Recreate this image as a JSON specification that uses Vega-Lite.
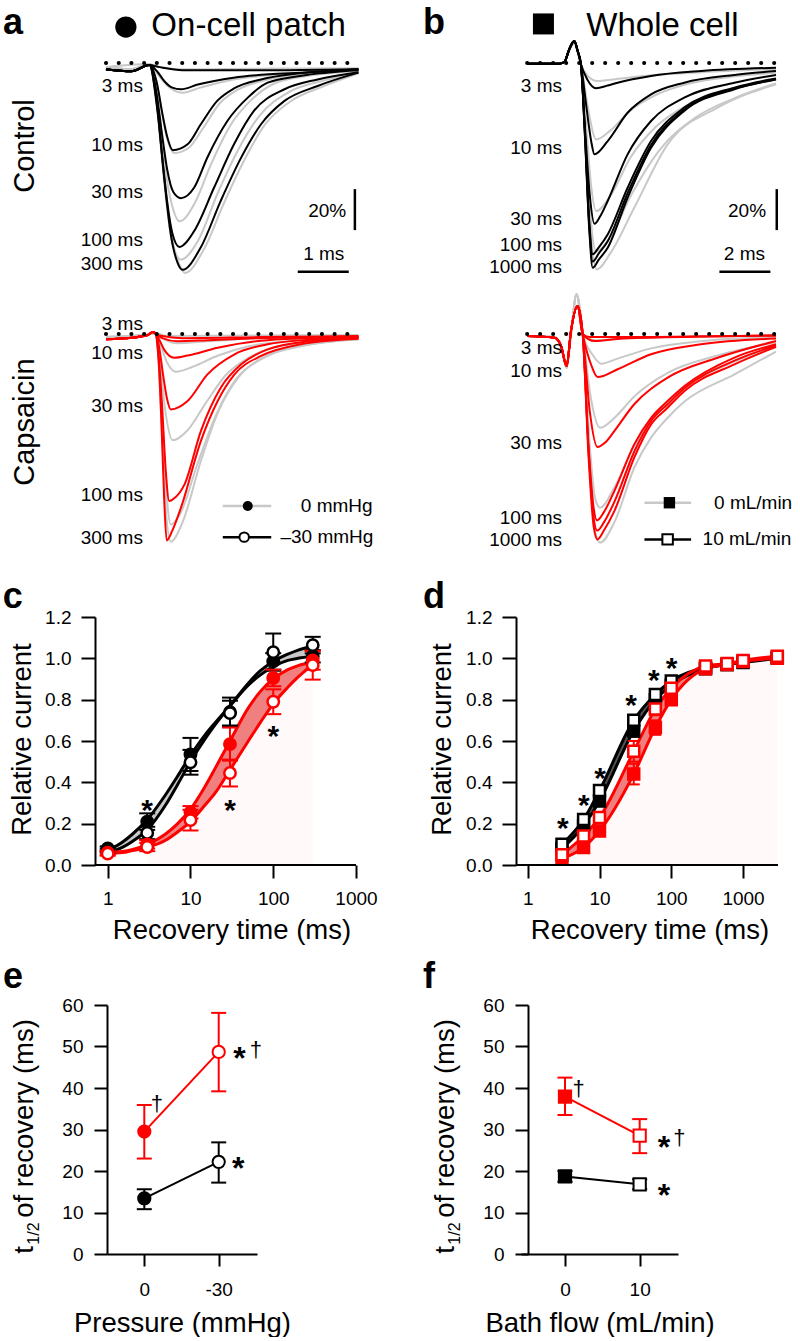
{
"$schema":"https://vega.github.io/schema/vega-lite/v6.json",
"padding":0,
"config":{"view":{"stroke":null},"font":"Liberation Sans","text":{"color":"#000"},
"axis":{"domainColor":"#000","tickColor":"#000","labelColor":"#000","titleColor":"#000","domainWidth":2,"tickWidth":2,"labelFontSize":19,"titleFontSize":27.5,"titleFontWeight":"normal","grid":false,"labelFlush":false,"labelOverlap":false,"labelBound":false}},
"columns":2,
"bounds":"flush",
"align":"each",
"spacing":{"row":11,"column":160},
"concat":[
{"width":254,"height":260,
"encoding":{"x":{"field":"t","type":"quantitative","scale":{"domain":[0.02,5.0],"nice":false,"zero":false},"axis":null},"y":{"field":"v","type":"quantitative","scale":{"domain":[-105,22],"nice":false,"zero":false},"axis":null}},
"layer":[
{"data":{"name":"aCtrl"},"transform":[{"filter":"substring(datum.s,0,1)==='g'"}],"mark":{"type":"line","stroke":"#c8c8c8","strokeWidth":2,"interpolate":"monotone"},"encoding":{"detail":{"field":"s","type":"nominal"}}},
{"data":{"name":"aCtrl"},"transform":[{"filter":"substring(datum.s,0,1)!=='g'"}],"mark":{"type":"line","stroke":"#000","strokeWidth":2,"interpolate":"monotone"},"encoding":{"detail":{"field":"s","type":"nominal"}}},
{"data":{"values":[{"t":0,"t2":4.87,"v":0}]},"mark":{"type":"rule","stroke":"#000","strokeWidth":4,"strokeCap":"round","strokeDash":[0.1,12.6]},"encoding":{"x2":{"field":"t2"}}},
{"data":{"values":[{"t":4.88,"t2":4.88,"v":-61.6,"v2":-81.6},{"t":3.76,"t2":4.76,"v":-102,"v2":-102}]},"mark":{"type":"rule","stroke":"#000","strokeWidth":2.5},"encoding":{"x2":{"field":"t2"},"y2":{"field":"v2"}}},
{"data":{"values":[{"t":0.725,"v":-11.2,"label":"3 ms"},{"t":0.725,"v":-40.0,"label":"10 ms"},{"t":0.725,"v":-62.9,"label":"30 ms"},{"t":0.725,"v":-86.6,"label":"100 ms"},{"t":0.725,"v":-98.3,"label":"300 ms"}]},"mark":{"type":"text","align":"right","baseline":"middle","fontSize":19},"encoding":{"text":{"field":"label"}}},
{"data":{"values":[{"t":4.71,"v":-72.3,"label":"20%"}]},"mark":{"type":"text","align":"right","baseline":"middle","fontSize":19},"encoding":{"text":{"field":"label"}}},
{"data":{"values":[{"t":4.27,"v":-93.3,"label":"1 ms"}]},"mark":{"type":"text","align":"center","baseline":"middle","fontSize":19},"encoding":{"text":{"field":"label"}}},
{"data":{"values":[{"t":0.39,"v":17.6}]},"mark":{"type":"point","shape":"circle","filled":true,"size":452,"color":"#000","opacity":1}},
{"data":{"values":[{"t":0.89,"v":13.2,"label":"On-cell patch"}]},"mark":{"type":"text","align":"left","baseline":"alphabetic","fontSize":33},"encoding":{"text":{"field":"label"}}},
{"data":{"values":[{"t":-2.02,"v":14.0,"label":"a"}]},"mark":{"type":"text","align":"left","baseline":"alphabetic","fontSize":36,"fontWeight":"bold"},"encoding":{"text":{"field":"label"}}},
{"data":{"values":[{"t":-1.41,"v":-40.5,"label":"Control"}]},"mark":{"type":"text","align":"center","baseline":"alphabetic","angle":270,"fontSize":29},"encoding":{"text":{"field":"label"}}},
{"data":{"values":[{"t":-2.039,"v":29.82}]},"mark":{"type":"point","shape":"square","size":4,"filled":true,"opacity":0}}
]},
{"width":260,"height":260,
"encoding":{"x":{"field":"t","type":"quantitative","scale":{"domain":[0,10.196],"nice":false,"zero":false},"axis":null},"y":{"field":"v","type":"quantitative","scale":{"domain":[-105,22],"nice":false,"zero":false},"axis":null}},
"layer":[
{"data":{"name":"bCtrl"},"transform":[{"filter":"substring(datum.s,0,1)==='g'"}],"mark":{"type":"line","stroke":"#c8c8c8","strokeWidth":2,"interpolate":"monotone"},"encoding":{"detail":{"field":"s","type":"nominal"}}},
{"data":{"name":"bCtrl"},"transform":[{"filter":"substring(datum.s,0,1)!=='g'"}],"mark":{"type":"line","stroke":"#000","strokeWidth":2,"interpolate":"monotone"},"encoding":{"detail":{"field":"s","type":"nominal"}}},
{"data":{"values":[{"t":0.24,"t2":10.0,"v":0}]},"mark":{"type":"rule","stroke":"#000","strokeWidth":4,"strokeCap":"round","strokeDash":[0.1,12.9]},"encoding":{"x2":{"field":"t2"}}},
{"data":{"values":[{"t":10.03,"t2":10.03,"v":-61.6,"v2":-81.6},{"t":7.78,"t2":9.78,"v":-102,"v2":-102}]},"mark":{"type":"rule","stroke":"#000","strokeWidth":2.5},"encoding":{"x2":{"field":"t2"},"y2":{"field":"v2"}}},
{"data":{"values":[{"t":1.61,"v":-11.2,"label":"3 ms"},{"t":1.61,"v":-41.4,"label":"10 ms"},{"t":1.61,"v":-76.3,"label":"30 ms"},{"t":1.61,"v":-89.0,"label":"100 ms"},{"t":1.61,"v":-99.4,"label":"1000 ms"}]},"mark":{"type":"text","align":"right","baseline":"middle","fontSize":19},"encoding":{"text":{"field":"label"}}},
{"data":{"values":[{"t":9.61,"v":-72.3,"label":"20%"}]},"mark":{"type":"text","align":"right","baseline":"middle","fontSize":19},"encoding":{"text":{"field":"label"}}},
{"data":{"values":[{"t":8.76,"v":-93.3,"label":"2 ms"}]},"mark":{"type":"text","align":"center","baseline":"middle","fontSize":19},"encoding":{"text":{"field":"label"}}},
{"data":{"values":[{"t":0.88,"v":19.1}]},"mark":{"type":"point","shape":"square","filled":true,"size":441,"color":"#000","opacity":1}},
{"data":{"values":[{"t":2.56,"v":13.2,"label":"Whole cell"}]},"mark":{"type":"text","align":"left","baseline":"alphabetic","fontSize":33},"encoding":{"text":{"field":"label"}}},
{"data":{"values":[{"t":-3.84,"v":14.0,"label":"b"}]},"mark":{"type":"text","align":"left","baseline":"alphabetic","fontSize":36,"fontWeight":"bold"},"encoding":{"text":{"field":"label"}}}
]},
{"width":254,"height":260,
"encoding":{"x":{"field":"t","type":"quantitative","scale":{"domain":[0.02,5.0],"nice":false,"zero":false},"axis":null},"y":{"field":"v","type":"quantitative","scale":{"domain":[-105,22],"nice":false,"zero":false},"axis":null}},
"layer":[
{"data":{"name":"aCaps"},"transform":[{"filter":"substring(datum.s,0,1)==='g'"}],"mark":{"type":"line","stroke":"#c8c8c8","strokeWidth":2,"interpolate":"monotone"},"encoding":{"detail":{"field":"s","type":"nominal"}}},
{"data":{"name":"aCaps"},"transform":[{"filter":"substring(datum.s,0,1)!=='g'"}],"mark":{"type":"line","stroke":"#ff0000","strokeWidth":2,"interpolate":"monotone"},"encoding":{"detail":{"field":"s","type":"nominal"}}},
{"data":{"values":[{"t":0,"t2":4.87,"v":0}]},"mark":{"type":"rule","stroke":"#000","strokeWidth":4,"strokeCap":"round","strokeDash":[0.1,12.6]},"encoding":{"x2":{"field":"t2"}}},
{"data":{"values":[{"t":0.725,"v":4.8,"label":"3 ms"},{"t":0.725,"v":-9.1,"label":"10 ms"},{"t":0.725,"v":-35.2,"label":"30 ms"},{"t":0.725,"v":-78.6,"label":"100 ms"},{"t":0.725,"v":-99.5,"label":"300 ms"}]},"mark":{"type":"text","align":"right","baseline":"middle","fontSize":19},"encoding":{"text":{"field":"label"}}},
{"data":{"values":[{"t":2.29,"t2":3.24,"v":-84}]},"mark":{"type":"rule","stroke":"#c8c8c8","strokeWidth":2.5},"encoding":{"x2":{"field":"t2"}}},
{"data":{"values":[{"t":2.29,"t2":3.24,"v":-99.2}]},"mark":{"type":"rule","stroke":"#000","strokeWidth":2.5},"encoding":{"x2":{"field":"t2"}}},
{"data":{"values":[{"t":2.78,"v":-84}]},"mark":{"type":"point","shape":"circle","filled":true,"size":100,"color":"#000","opacity":1}},
{"data":{"values":[{"t":2.71,"v":-99.2}]},"mark":{"type":"point","shape":"circle","filled":true,"size":90,"fill":"#fff","stroke":"#000","strokeWidth":2,"opacity":1}},
{"data":{"values":[{"t":3.82,"v":-84,"label":"0 mmHg"},{"t":3.42,"v":-99.2,"label":"–30 mmHg"}]},"mark":{"type":"text","align":"left","baseline":"middle","fontSize":19},"encoding":{"text":{"field":"label"}}},
{"data":{"values":[{"t":-1.41,"v":-43.0,"label":"Capsaicin"}]},"mark":{"type":"text","align":"center","baseline":"alphabetic","angle":270,"fontSize":29},"encoding":{"text":{"field":"label"}}}
]},
{"width":260,"height":260,
"encoding":{"x":{"field":"t","type":"quantitative","scale":{"domain":[0,10.196],"nice":false,"zero":false},"axis":null},"y":{"field":"v","type":"quantitative","scale":{"domain":[-105,22],"nice":false,"zero":false},"axis":null}},
"layer":[
{"data":{"name":"bCaps"},"transform":[{"filter":"substring(datum.s,0,1)==='g'"}],"mark":{"type":"line","stroke":"#c8c8c8","strokeWidth":2,"interpolate":"monotone"},"encoding":{"detail":{"field":"s","type":"nominal"}}},
{"data":{"name":"bCaps"},"transform":[{"filter":"substring(datum.s,0,1)!=='g'"}],"mark":{"type":"line","stroke":"#ff0000","strokeWidth":2,"interpolate":"monotone"},"encoding":{"detail":{"field":"s","type":"nominal"}}},
{"data":{"values":[{"t":0.24,"t2":10.0,"v":0}]},"mark":{"type":"rule","stroke":"#000","strokeWidth":4,"strokeCap":"round","strokeDash":[0.1,12.9]},"encoding":{"x2":{"field":"t2"}}},
{"data":{"values":[{"t":1.61,"v":-7.0,"label":"3 ms"},{"t":1.61,"v":-18.1,"label":"10 ms"},{"t":1.61,"v":-53.1,"label":"30 ms"},{"t":1.61,"v":-89.7,"label":"100 ms"},{"t":1.61,"v":-100.6,"label":"1000 ms"}]},"mark":{"type":"text","align":"right","baseline":"middle","fontSize":19},"encoding":{"text":{"field":"label"}}},
{"data":{"values":[{"t":4.84,"t2":6.67,"v":-82.4}]},"mark":{"type":"rule","stroke":"#c8c8c8","strokeWidth":2.5},"encoding":{"x2":{"field":"t2"}}},
{"data":{"values":[{"t":4.84,"t2":6.67,"v":-100.3}]},"mark":{"type":"rule","stroke":"#000","strokeWidth":2.5},"encoding":{"x2":{"field":"t2"}}},
{"data":{"values":[{"t":5.82,"v":-82.4}]},"mark":{"type":"point","shape":"square","filled":true,"size":130,"color":"#000","opacity":1}},
{"data":{"values":[{"t":5.75,"v":-100.3}]},"mark":{"type":"point","shape":"square","filled":true,"size":110,"fill":"#fff","stroke":"#000","strokeWidth":2,"opacity":1}},
{"data":{"values":[{"t":7.57,"v":-82.4,"label":"0 mL/min"},{"t":7.12,"v":-100.3,"label":"10 mL/min"}]},"mark":{"type":"text","align":"left","baseline":"middle","fontSize":19},"encoding":{"text":{"field":"label"}}}
]},
{"width":10,"height":46,"data":{"values":[{"a":1}]},"mark":{"type":"point","opacity":0}},
{"width":10,"height":46,"data":{"values":[{"a":1}]},"mark":{"type":"point","opacity":0}},
{"width":249,"height":248,
"encoding":{"x":{"field":"t","type":"quantitative","scale":{"type":"log","domain":[0.98,1000],"nice":false},"axis":{"values":[1,10,100,1000],"format":"d","domain":false,"tickSize":13,"labelPadding":11,"title":"Recovery time (ms)","titlePadding":8}},
"y":{"field":"y","type":"quantitative","scale":{"domain":[0,1.2],"nice":false,"zero":false},"axis":{"values":[0,0.2,0.4,0.6,0.8,1.0,1.2],"format":".1f","tickSize":14,"offset":12,"labelPadding":10,"title":null}}},
"layer":[
{"data":{"name":"cfit"},"transform":[{"filter":"datum.t>=3"}],"mark":{"type":"area","color":"#ff0000","opacity":0.025},"encoding":{"y":{"field":"r0","type":"quantitative","scale":{"domain":[0,1.2],"nice":false,"zero":false},"axis":{"values":[0,0.2,0.4,0.6,0.8,1.0,1.2],"format":".1f","tickSize":14,"offset":12,"labelPadding":10,"title":null}},"y2":{"datum":0}}},
{"data":{"name":"cfit"},"mark":{"type":"area","color":"#c8c8c8","opacity":1,"interpolate":"monotone"},"encoding":{"y":{"field":"k0","type":"quantitative","scale":{"domain":[0,1.2],"nice":false,"zero":false},"axis":{"values":[0,0.2,0.4,0.6,0.8,1.0,1.2],"format":".1f","tickSize":14,"offset":12,"labelPadding":10,"title":null}},"y2":{"field":"k1"}}},
{"data":{"name":"cfit"},"mark":{"type":"area","color":"#f08080","opacity":1,"interpolate":"monotone"},"encoding":{"y":{"field":"r0","type":"quantitative","scale":{"domain":[0,1.2],"nice":false,"zero":false},"axis":{"values":[0,0.2,0.4,0.6,0.8,1.0,1.2],"format":".1f","tickSize":14,"offset":12,"labelPadding":10,"title":null}},"y2":{"field":"r1"}}},
{"data":{"name":"cfit"},"mark":{"type":"line","stroke":"#000","strokeWidth":3,"interpolate":"monotone"},"encoding":{"y":{"field":"k1","type":"quantitative","scale":{"domain":[0,1.2],"nice":false,"zero":false},"axis":{"values":[0,0.2,0.4,0.6,0.8,1.0,1.2],"format":".1f","tickSize":14,"offset":12,"labelPadding":10,"title":null}}}},
{"data":{"name":"cfit"},"mark":{"type":"line","stroke":"#000","strokeWidth":3,"interpolate":"monotone"},"encoding":{"y":{"field":"k0","type":"quantitative","scale":{"domain":[0,1.2],"nice":false,"zero":false},"axis":{"values":[0,0.2,0.4,0.6,0.8,1.0,1.2],"format":".1f","tickSize":14,"offset":12,"labelPadding":10,"title":null}}}},
{"data":{"name":"cfit"},"mark":{"type":"line","stroke":"#ff0000","strokeWidth":3,"interpolate":"monotone"},"encoding":{"y":{"field":"r1","type":"quantitative","scale":{"domain":[0,1.2],"nice":false,"zero":false},"axis":{"values":[0,0.2,0.4,0.6,0.8,1.0,1.2],"format":".1f","tickSize":14,"offset":12,"labelPadding":10,"title":null}}}},
{"data":{"name":"cfit"},"mark":{"type":"line","stroke":"#ff0000","strokeWidth":3,"interpolate":"monotone"},"encoding":{"y":{"field":"r0","type":"quantitative","scale":{"domain":[0,1.2],"nice":false,"zero":false},"axis":{"values":[0,0.2,0.4,0.6,0.8,1.0,1.2],"format":".1f","tickSize":14,"offset":12,"labelPadding":10,"title":null}}}},
{"data":{"name":"cpts"},"mark":{"type":"rule","strokeWidth":2},"encoding":{"y":{"field":"lo","type":"quantitative","scale":{"domain":[0,1.2],"nice":false,"zero":false},"axis":{"values":[0,0.2,0.4,0.6,0.8,1.0,1.2],"format":".1f","tickSize":14,"offset":12,"labelPadding":10,"title":null}},"y2":{"field":"hi"},"stroke":{"field":"grp","type":"nominal","scale":{"domain":["k0","k1","r0","r1"],"range":["#000","#000","#ff0000","#ff0000"]},"legend":null}}},
{"data":{"name":"cpts"},"mark":{"type":"tick","orient":"horizontal","size":16,"thickness":2,"opacity":1},"encoding":{"y":{"field":"lo","type":"quantitative","scale":{"domain":[0,1.2],"nice":false,"zero":false},"axis":{"values":[0,0.2,0.4,0.6,0.8,1.0,1.2],"format":".1f","tickSize":14,"offset":12,"labelPadding":10,"title":null}},"color":{"field":"grp","type":"nominal","scale":{"domain":["k0","k1","r0","r1"],"range":["#000","#000","#ff0000","#ff0000"]},"legend":null}}},
{"data":{"name":"cpts"},"mark":{"type":"tick","orient":"horizontal","size":16,"thickness":2,"opacity":1},"encoding":{"y":{"field":"hi","type":"quantitative","scale":{"domain":[0,1.2],"nice":false,"zero":false},"axis":{"values":[0,0.2,0.4,0.6,0.8,1.0,1.2],"format":".1f","tickSize":14,"offset":12,"labelPadding":10,"title":null}},"color":{"field":"grp","type":"nominal","scale":{"domain":["k0","k1","r0","r1"],"range":["#000","#000","#ff0000","#ff0000"]},"legend":null}}},
{"data":{"name":"cpts"},"mark":{"type":"point","shape":"circle","filled":true,"size":130,"strokeWidth":2.5,"opacity":1},"encoding":{"fill":{"field":"grp","type":"nominal","scale":{"domain":["k0","k1","r0","r1"],"range":["#000","#fff","#ff0000","#fff"]},"legend":null},"stroke":{"field":"grp","type":"nominal","scale":{"domain":["k0","k1","r0","r1"],"range":["#000","#000","#ff0000","#ff0000"]},"legend":null}}},
{"data":{"values":[{"t":3,"y":0.30},{"t":30,"y":0.30},{"t":100,"y":0.657}]},"mark":{"type":"text","align":"center","baseline":"alphabetic","fontSize":30,"fontWeight":"bold","dy":17,"text":"*"}},
{"data":{"values":[{"t":0.1174,"y":0.607,"label":"Relative current"}]},"mark":{"type":"text","align":"center","baseline":"alphabetic","angle":270,"fontSize":27.5},"encoding":{"text":{"field":"label"}}},
{"data":{"values":[{"t":0.0539,"y":1.2433,"label":"c"}]},"mark":{"type":"text","align":"left","baseline":"alphabetic","fontSize":36,"fontWeight":"bold"},"encoding":{"text":{"field":"label"}}},
{"data":{"values":[{"t":0.696,"t2":1000,"y":0}]},"mark":{"type":"rule","stroke":"#000","strokeWidth":2},"encoding":{"x2":{"field":"t2"}}}
]},
{"width":257,"height":248,
"encoding":{"x":{"field":"t","type":"quantitative","scale":{"type":"log","domain":[0.806,3068],"nice":false},"axis":{"values":[1,10,100,1000],"format":"d","domain":false,"tickSize":13,"labelPadding":11,"title":"Recovery time (ms)","titlePadding":8}},
"y":{"field":"y","type":"quantitative","scale":{"domain":[0,1.2],"nice":false,"zero":false},"axis":{"values":[0,0.2,0.4,0.6,0.8,1.0,1.2],"format":".1f","tickSize":14,"offset":5,"labelPadding":10,"title":null}}},
"layer":[
{"data":{"name":"dfit"},"mark":{"type":"area","color":"#ff0000","opacity":0.025},"encoding":{"y":{"field":"r1","type":"quantitative","scale":{"domain":[0,1.2],"nice":false,"zero":false},"axis":{"values":[0,0.2,0.4,0.6,0.8,1.0,1.2],"format":".1f","tickSize":14,"offset":5,"labelPadding":10,"title":null}},"y2":{"datum":0}}},
{"data":{"name":"dfit"},"mark":{"type":"area","color":"#555555","opacity":1,"interpolate":"monotone"},"encoding":{"y":{"field":"k0","type":"quantitative","scale":{"domain":[0,1.2],"nice":false,"zero":false},"axis":{"values":[0,0.2,0.4,0.6,0.8,1.0,1.2],"format":".1f","tickSize":14,"offset":5,"labelPadding":10,"title":null}},"y2":{"field":"k1"}}},
{"data":{"name":"dfit"},"mark":{"type":"area","color":"#f08080","opacity":1,"interpolate":"monotone"},"encoding":{"y":{"field":"r0","type":"quantitative","scale":{"domain":[0,1.2],"nice":false,"zero":false},"axis":{"values":[0,0.2,0.4,0.6,0.8,1.0,1.2],"format":".1f","tickSize":14,"offset":5,"labelPadding":10,"title":null}},"y2":{"field":"r1"}}},
{"data":{"name":"dfit"},"mark":{"type":"line","stroke":"#000","strokeWidth":3,"interpolate":"monotone"},"encoding":{"y":{"field":"k1","type":"quantitative","scale":{"domain":[0,1.2],"nice":false,"zero":false},"axis":{"values":[0,0.2,0.4,0.6,0.8,1.0,1.2],"format":".1f","tickSize":14,"offset":5,"labelPadding":10,"title":null}}}},
{"data":{"name":"dfit"},"mark":{"type":"line","stroke":"#000","strokeWidth":3,"interpolate":"monotone"},"encoding":{"y":{"field":"k0","type":"quantitative","scale":{"domain":[0,1.2],"nice":false,"zero":false},"axis":{"values":[0,0.2,0.4,0.6,0.8,1.0,1.2],"format":".1f","tickSize":14,"offset":5,"labelPadding":10,"title":null}}}},
{"data":{"name":"dfit"},"mark":{"type":"line","stroke":"#ff0000","strokeWidth":3,"interpolate":"monotone"},"encoding":{"y":{"field":"r1","type":"quantitative","scale":{"domain":[0,1.2],"nice":false,"zero":false},"axis":{"values":[0,0.2,0.4,0.6,0.8,1.0,1.2],"format":".1f","tickSize":14,"offset":5,"labelPadding":10,"title":null}}}},
{"data":{"name":"dfit"},"mark":{"type":"line","stroke":"#ff0000","strokeWidth":3,"interpolate":"monotone"},"encoding":{"y":{"field":"r0","type":"quantitative","scale":{"domain":[0,1.2],"nice":false,"zero":false},"axis":{"values":[0,0.2,0.4,0.6,0.8,1.0,1.2],"format":".1f","tickSize":14,"offset":5,"labelPadding":10,"title":null}}}},
{"data":{"name":"dpts"},"mark":{"type":"rule","strokeWidth":2},"encoding":{"y":{"field":"lo","type":"quantitative","scale":{"domain":[0,1.2],"nice":false,"zero":false},"axis":{"values":[0,0.2,0.4,0.6,0.8,1.0,1.2],"format":".1f","tickSize":14,"offset":5,"labelPadding":10,"title":null}},"y2":{"field":"hi"},"stroke":{"field":"grp","type":"nominal","scale":{"domain":["k0","k1","r0","r1"],"range":["#000","#000","#ff0000","#ff0000"]},"legend":null}}},
{"data":{"name":"dpts"},"mark":{"type":"tick","orient":"horizontal","size":12,"thickness":2,"opacity":1},"encoding":{"y":{"field":"lo","type":"quantitative","scale":{"domain":[0,1.2],"nice":false,"zero":false},"axis":{"values":[0,0.2,0.4,0.6,0.8,1.0,1.2],"format":".1f","tickSize":14,"offset":5,"labelPadding":10,"title":null}},"color":{"field":"grp","type":"nominal","scale":{"domain":["k0","k1","r0","r1"],"range":["#000","#000","#ff0000","#ff0000"]},"legend":null}}},
{"data":{"name":"dpts"},"mark":{"type":"tick","orient":"horizontal","size":12,"thickness":2,"opacity":1},"encoding":{"y":{"field":"hi","type":"quantitative","scale":{"domain":[0,1.2],"nice":false,"zero":false},"axis":{"values":[0,0.2,0.4,0.6,0.8,1.0,1.2],"format":".1f","tickSize":14,"offset":5,"labelPadding":10,"title":null}},"color":{"field":"grp","type":"nominal","scale":{"domain":["k0","k1","r0","r1"],"range":["#000","#000","#ff0000","#ff0000"]},"legend":null}}},
{"data":{"name":"dpts"},"mark":{"type":"point","shape":"square","filled":true,"size":120,"strokeWidth":2.5,"opacity":1},"encoding":{"fill":{"field":"grp","type":"nominal","scale":{"domain":["k0","k1","r0","r1"],"range":["#000","#fff","#ff0000","#fff"]},"legend":null},"stroke":{"field":"grp","type":"nominal","scale":{"domain":["k0","k1","r0","r1"],"range":["#000","#000","#ff0000","#ff0000"]},"legend":null}}},
{"data":{"values":[{"t":3.08,"y":0.213},{"t":6.03,"y":0.326},{"t":10.2,"y":0.455},{"t":27.6,"y":0.806},{"t":57,"y":0.93},{"t":101,"y":0.987}]},"mark":{"type":"text","align":"center","baseline":"alphabetic","fontSize":30,"fontWeight":"bold","dy":17,"text":"*"}},
{"data":{"values":[{"t":0.0852,"y":0.607,"label":"Relative current"}]},"mark":{"type":"text","align":"center","baseline":"alphabetic","angle":270,"fontSize":27.5},"encoding":{"text":{"field":"label"}}},
{"data":{"values":[{"t":0.0347,"y":1.2433,"label":"d"}]},"mark":{"type":"text","align":"left","baseline":"alphabetic","fontSize":36,"fontWeight":"bold"},"encoding":{"text":{"field":"label"}}},
{"data":{"values":[{"t":0.687,"t2":3068,"y":0}]},"mark":{"type":"rule","stroke":"#000","strokeWidth":2},"encoding":{"x2":{"field":"t2"}}}
]},
{"width":10,"height":118,"data":{"values":[{"a":1}]},"mark":{"type":"point","opacity":0}},
{"width":10,"height":118,"data":{"values":[{"a":1}]},"mark":{"type":"point","opacity":0}},
{"width":150,"height":249,
"encoding":{"x":{"field":"x","type":"quantitative","scale":{"domain":[-45.44,15.04],"reverse":true,"nice":false,"zero":false},"axis":{"values":[0,-30],"labelExpr":"datum.value === 0 ? '0' : '-30'","tickSize":12,"labelPadding":14,"title":"Pressure (mmHg)","titlePadding":10}},
"y":{"field":"y","type":"quantitative","scale":{"domain":[0,60],"nice":false,"zero":false},"axis":{"values":[0,10,20,30,40,50,60],"tickSize":13,"labelPadding":11,"title":null}}},
"layer":[
{"data":{"name":"epts"},"transform":[{"filter":"substring(datum.grp,0,1)==='k'"}],"mark":{"type":"line","stroke":"#000","strokeWidth":2}},
{"data":{"name":"epts"},"transform":[{"filter":"substring(datum.grp,0,1)==='r'"}],"mark":{"type":"line","stroke":"#ff0000","strokeWidth":2}},
{"data":{"name":"epts"},"mark":{"type":"rule","strokeWidth":2},"encoding":{"y":{"field":"lo","type":"quantitative","scale":{"domain":[0,60],"nice":false,"zero":false},"axis":{"values":[0,10,20,30,40,50,60],"tickSize":13,"labelPadding":11,"title":null}},"y2":{"field":"hi"},"stroke":{"field":"grp","type":"nominal","scale":{"domain":["k0","k1","r0","r1"],"range":["#000","#000","#ff0000","#ff0000"]},"legend":null}}},
{"data":{"name":"epts"},"mark":{"type":"tick","orient":"horizontal","size":15,"thickness":2,"opacity":1},"encoding":{"y":{"field":"lo","type":"quantitative","scale":{"domain":[0,60],"nice":false,"zero":false},"axis":{"values":[0,10,20,30,40,50,60],"tickSize":13,"labelPadding":11,"title":null}},"color":{"field":"grp","type":"nominal","scale":{"domain":["k0","k1","r0","r1"],"range":["#000","#000","#ff0000","#ff0000"]},"legend":null}}},
{"data":{"name":"epts"},"mark":{"type":"tick","orient":"horizontal","size":15,"thickness":2,"opacity":1},"encoding":{"y":{"field":"hi","type":"quantitative","scale":{"domain":[0,60],"nice":false,"zero":false},"axis":{"values":[0,10,20,30,40,50,60],"tickSize":13,"labelPadding":11,"title":null}},"color":{"field":"grp","type":"nominal","scale":{"domain":["k0","k1","r0","r1"],"range":["#000","#000","#ff0000","#ff0000"]},"legend":null}}},
{"data":{"name":"epts"},"mark":{"type":"point","shape":"circle","filled":true,"size":150,"strokeWidth":2,"opacity":1},"encoding":{"fill":{"field":"grp","type":"nominal","scale":{"domain":["k0","k1","r0","r1"],"range":["#000","#fff","#ff0000","#fff"]},"legend":null},"stroke":{"field":"grp","type":"nominal","scale":{"domain":["k0","k1","r0","r1"],"range":["#000","#000","#ff0000","#ff0000"]},"legend":null}}},
{"data":{"values":[{"x":-38.4,"y":48.9},{"x":-37.9,"y":22.5}]},"mark":{"type":"text","align":"center","baseline":"alphabetic","fontSize":32,"fontWeight":"bold","dy":18,"text":"*"}},
{"data":{"values":[{"x":-45.0,"y":49.0},{"x":-5.1,"y":35.9}]},"mark":{"type":"text","align":"center","baseline":"alphabetic","fontSize":22,"dy":6,"text":"†"}},
{"data":{"values":[{"x":45.0,"y":0.07}]},"mark":{"type":"text","align":"left","baseline":"alphabetic","angle":270,"fontSize":27.5,"text":"t"}},
{"data":{"values":[{"x":42.5,"y":2.24}]},"mark":{"type":"text","align":"left","baseline":"alphabetic","angle":270,"fontSize":16,"text":"1/2"}},
{"data":{"values":[{"x":45.0,"y":8.74}]},"mark":{"type":"text","align":"left","baseline":"alphabetic","angle":270,"fontSize":27.5,"text":"of recovery (ms)"}},
{"data":{"values":[{"x":56.98,"y":64.17}]},"mark":{"type":"text","align":"left","baseline":"alphabetic","fontSize":36,"fontWeight":"bold","text":"e"}}
]},
{"width":157,"height":249,
"encoding":{"x":{"field":"x","type":"quantitative","scale":{"domain":[-5.89,15.13],"nice":false,"zero":false},"axis":{"values":[0,10],"format":"d","tickSize":12,"labelPadding":14,"title":"Bath flow (mL/min)","titlePadding":10}},
"y":{"field":"y","type":"quantitative","scale":{"domain":[0,60],"nice":false,"zero":false},"axis":{"values":[0,10,20,30,40,50,60],"tickSize":13,"labelPadding":11,"offset":-7,"title":null}}},
"layer":[
{"data":{"name":"fpts"},"transform":[{"filter":"substring(datum.grp,0,1)==='k'"}],"mark":{"type":"line","stroke":"#000","strokeWidth":2}},
{"data":{"name":"fpts"},"transform":[{"filter":"substring(datum.grp,0,1)==='r'"}],"mark":{"type":"line","stroke":"#ff0000","strokeWidth":2}},
{"data":{"name":"fpts"},"mark":{"type":"rule","strokeWidth":2},"encoding":{"y":{"field":"lo","type":"quantitative","scale":{"domain":[0,60],"nice":false,"zero":false},"axis":{"values":[0,10,20,30,40,50,60],"tickSize":13,"labelPadding":11,"offset":-7,"title":null}},"y2":{"field":"hi"},"stroke":{"field":"grp","type":"nominal","scale":{"domain":["k0","k1","r0","r1"],"range":["#000","#000","#ff0000","#ff0000"]},"legend":null}}},
{"data":{"name":"fpts"},"mark":{"type":"tick","orient":"horizontal","size":15,"thickness":2,"opacity":1},"encoding":{"y":{"field":"lo","type":"quantitative","scale":{"domain":[0,60],"nice":false,"zero":false},"axis":{"values":[0,10,20,30,40,50,60],"tickSize":13,"labelPadding":11,"offset":-7,"title":null}},"color":{"field":"grp","type":"nominal","scale":{"domain":["k0","k1","r0","r1"],"range":["#000","#000","#ff0000","#ff0000"]},"legend":null}}},
{"data":{"name":"fpts"},"mark":{"type":"tick","orient":"horizontal","size":15,"thickness":2,"opacity":1},"encoding":{"y":{"field":"hi","type":"quantitative","scale":{"domain":[0,60],"nice":false,"zero":false},"axis":{"values":[0,10,20,30,40,50,60],"tickSize":13,"labelPadding":11,"offset":-7,"title":null}},"color":{"field":"grp","type":"nominal","scale":{"domain":["k0","k1","r0","r1"],"range":["#000","#000","#ff0000","#ff0000"]},"legend":null}}},
{"data":{"name":"fpts"},"mark":{"type":"point","shape":"square","filled":true,"size":150,"strokeWidth":2,"opacity":1},"encoding":{"fill":{"field":"grp","type":"nominal","scale":{"domain":["k0","k1","r0","r1"],"range":["#000","#fff","#ff0000","#fff"]},"legend":null},"stroke":{"field":"grp","type":"nominal","scale":{"domain":["k0","k1","r0","r1"],"range":["#000","#000","#ff0000","#ff0000"]},"legend":null}}},
{"data":{"values":[{"x":13.25,"y":27.5},{"x":13.25,"y":16.0}]},"mark":{"type":"text","align":"center","baseline":"alphabetic","fontSize":32,"fontWeight":"bold","dy":18,"text":"*"}},
{"data":{"values":[{"x":15.33,"y":27.6},{"x":1.81,"y":39.5}]},"mark":{"type":"text","align":"center","baseline":"alphabetic","fontSize":22,"dy":6,"text":"†"}},
{"data":{"values":[{"x":-14.9,"y":0.07}]},"mark":{"type":"text","align":"left","baseline":"alphabetic","angle":270,"fontSize":27.5,"text":"t"}},
{"data":{"values":[{"x":-14.06,"y":2.24}]},"mark":{"type":"text","align":"left","baseline":"alphabetic","angle":270,"fontSize":16,"text":"1/2"}},
{"data":{"values":[{"x":-14.9,"y":8.74}]},"mark":{"type":"text","align":"left","baseline":"alphabetic","angle":270,"fontSize":27.5,"text":"of recovery (ms)"}},
{"data":{"values":[{"x":-19.0,"y":64.17}]},"mark":{"type":"text","align":"left","baseline":"alphabetic","fontSize":36,"fontWeight":"bold","text":"f"}}
]}
],
"datasets":{
"aCtrl":[
{"s":"g1","t":0,"v":-2},{"s":"g1","t":0.85,"v":-0.5},{"s":"g1","t":1.05,"v":-2},{"s":"g1","t":1.5,"v":-3},{"s":"g1","t":4.95,"v":-2.5},
{"s":"g3","t":0,"v":-2},{"s":"g3","t":0.5,"v":-3},{"s":"g3","t":0.85,"v":-0.5},{"s":"g3","t":1.0,"v":-5},{"s":"g3","t":1.2,"v":-11},{"s":"g3","t":1.5,"v":-14.5},{"s":"g3","t":1.85,"v":-12},{"s":"g3","t":2.5,"v":-8},{"s":"g3","t":3.8,"v":-5},{"s":"g3","t":4.95,"v":-3.5},
{"s":"g10","t":0,"v":-2},{"s":"g10","t":0.5,"v":-3},{"s":"g10","t":0.85,"v":-0.5},{"s":"g10","t":1.0,"v":-11},{"s":"g10","t":1.2,"v":-37},{"s":"g10","t":1.33,"v":-44},{"s":"g10","t":1.62,"v":-41.5},{"s":"g10","t":1.9,"v":-32},{"s":"g10","t":2.22,"v":-20},{"s":"g10","t":2.55,"v":-13.5},{"s":"g10","t":3.1,"v":-8.5},{"s":"g10","t":3.8,"v":-5.5},{"s":"g10","t":4.95,"v":-3.5},
{"s":"g30","t":0,"v":-2},{"s":"g30","t":0.5,"v":-3},{"s":"g30","t":0.85,"v":-0.5},{"s":"g30","t":1.0,"v":-18},{"s":"g30","t":1.15,"v":-50},{"s":"g30","t":1.3,"v":-70},{"s":"g30","t":1.44,"v":-77.3},{"s":"g30","t":1.75,"v":-68},{"s":"g30","t":2.05,"v":-50},{"s":"g30","t":2.45,"v":-30},{"s":"g30","t":2.85,"v":-18},{"s":"g30","t":3.3,"v":-10},{"s":"g30","t":3.9,"v":-6.5},{"s":"g30","t":4.95,"v":-4},
{"s":"g100","t":0,"v":-2},{"s":"g100","t":0.5,"v":-3},{"s":"g100","t":0.85,"v":-0.5},{"s":"g100","t":1.0,"v":-22},{"s":"g100","t":1.15,"v":-60},{"s":"g100","t":1.3,"v":-88},{"s":"g100","t":1.47,"v":-96},{"s":"g100","t":1.8,"v":-87},{"s":"g100","t":2.2,"v":-63},{"s":"g100","t":2.6,"v":-42},{"s":"g100","t":3.0,"v":-26},{"s":"g100","t":3.6,"v":-14},{"s":"g100","t":4.2,"v":-9},{"s":"g100","t":4.95,"v":-5},
{"s":"g300","t":0,"v":-2},{"s":"g300","t":0.5,"v":-3},{"s":"g300","t":0.85,"v":-0.5},{"s":"g300","t":1.02,"v":-24},{"s":"g300","t":1.16,"v":-58},{"s":"g300","t":1.3,"v":-86},{"s":"g300","t":1.45,"v":-99},{"s":"g300","t":1.55,"v":-102.5},{"s":"g300","t":1.92,"v":-91},{"s":"g300","t":2.32,"v":-68},{"s":"g300","t":2.72,"v":-47},{"s":"g300","t":3.12,"v":-30},{"s":"g300","t":3.6,"v":-19},{"s":"g300","t":4.25,"v":-11.5},{"s":"g300","t":4.95,"v":-5},
{"s":"k1","t":0,"v":-3},{"s":"k1","t":0.5,"v":-4},{"s":"k1","t":0.85,"v":-1},{"s":"k1","t":1.05,"v":-2},{"s":"k1","t":1.5,"v":-3.5},{"s":"k1","t":3,"v":-3.5},{"s":"k1","t":4.95,"v":-3},
{"s":"k3","t":0,"v":-3},{"s":"k3","t":0.5,"v":-4},{"s":"k3","t":0.85,"v":-1},{"s":"k3","t":1.0,"v":-4},{"s":"k3","t":1.15,"v":-9},{"s":"k3","t":1.3,"v":-12},{"s":"k3","t":1.47,"v":-12.8},{"s":"k3","t":1.8,"v":-10.5},{"s":"k3","t":2.5,"v":-7.2},{"s":"k3","t":3.2,"v":-5.5},{"s":"k3","t":3.8,"v":-4.7},{"s":"k3","t":4.95,"v":-3.1},
{"s":"k10","t":0,"v":-3},{"s":"k10","t":0.5,"v":-4},{"s":"k10","t":0.85,"v":-1},{"s":"k10","t":1.0,"v":-10},{"s":"k10","t":1.1,"v":-24},{"s":"k10","t":1.2,"v":-36},{"s":"k10","t":1.31,"v":-42.6},{"s":"k10","t":1.6,"v":-39.7},{"s":"k10","t":1.86,"v":-29.9},{"s":"k10","t":2.18,"v":-18.5},{"s":"k10","t":2.51,"v":-12.4},{"s":"k10","t":3.04,"v":-8},{"s":"k10","t":3.8,"v":-5},{"s":"k10","t":4.95,"v":-3},
{"s":"k30","t":0,"v":-3},{"s":"k30","t":0.5,"v":-4},{"s":"k30","t":0.85,"v":-1},{"s":"k30","t":1.0,"v":-16},{"s":"k30","t":1.1,"v":-35},{"s":"k30","t":1.2,"v":-52},{"s":"k30","t":1.32,"v":-63},{"s":"k30","t":1.47,"v":-66},{"s":"k30","t":1.73,"v":-60.8},{"s":"k30","t":1.99,"v":-46},{"s":"k30","t":2.38,"v":-28.3},{"s":"k30","t":2.78,"v":-16.9},{"s":"k30","t":3.17,"v":-9.6},{"s":"k30","t":3.8,"v":-6.3},{"s":"k30","t":4.95,"v":-3.5},
{"s":"k100","t":0,"v":-3},{"s":"k100","t":0.5,"v":-4},{"s":"k100","t":0.85,"v":-1},{"s":"k100","t":1.0,"v":-20},{"s":"k100","t":1.1,"v":-45},{"s":"k100","t":1.2,"v":-68},{"s":"k100","t":1.3,"v":-83},{"s":"k100","t":1.44,"v":-89.8},{"s":"k100","t":1.73,"v":-82},{"s":"k100","t":2.12,"v":-60.8},{"s":"k100","t":2.51,"v":-39.7},{"s":"k100","t":2.9,"v":-23.4},{"s":"k100","t":3.5,"v":-12.8},{"s":"k100","t":4.15,"v":-8},{"s":"k100","t":4.95,"v":-4.5},
{"s":"k300","t":0,"v":-3},{"s":"k300","t":0.5,"v":-4},{"s":"k300","t":0.85,"v":-1},{"s":"k300","t":1.01,"v":-23.4},{"s":"k300","t":1.14,"v":-55.9},{"s":"k300","t":1.27,"v":-83.5},{"s":"k300","t":1.41,"v":-98},{"s":"k300","t":1.5,"v":-101},{"s":"k300","t":1.86,"v":-90},{"s":"k300","t":2.25,"v":-67.3},{"s":"k300","t":2.65,"v":-46.2},{"s":"k300","t":3.04,"v":-29.9},{"s":"k300","t":3.5,"v":-18.5},{"s":"k300","t":4.15,"v":-11.2},{"s":"k300","t":4.95,"v":-4.7}
],
"aCaps":[
{"s":"g1","t":0,"v":-1.5},{"s":"g1","t":0.82,"v":-0.3},{"s":"g1","t":0.95,"v":0.5},{"s":"g1","t":1.2,"v":-1},{"s":"g1","t":4.95,"v":-0.5},
{"s":"g3","t":0,"v":-1.5},{"s":"g3","t":0.82,"v":-0.3},{"s":"g3","t":0.95,"v":0.5},{"s":"g3","t":1.1,"v":-2},{"s":"g3","t":1.4,"v":-4.5},{"s":"g3","t":2,"v":-3.5},{"s":"g3","t":3,"v":-2},{"s":"g3","t":4.95,"v":-1},
{"s":"g10","t":0,"v":-1.5},{"s":"g10","t":0.82,"v":-0.3},{"s":"g10","t":0.95,"v":0.5},{"s":"g10","t":1.05,"v":-4},{"s":"g10","t":1.2,"v":-14},{"s":"g10","t":1.37,"v":-18.4},{"s":"g10","t":1.7,"v":-16},{"s":"g10","t":2.2,"v":-10.5},{"s":"g10","t":2.8,"v":-6},{"s":"g10","t":3.6,"v":-3.5},{"s":"g10","t":4.95,"v":-1.5},
{"s":"g30","t":0,"v":-1.5},{"s":"g30","t":0.82,"v":-0.3},{"s":"g30","t":0.95,"v":0.5},{"s":"g30","t":1.04,"v":-8},{"s":"g30","t":1.15,"v":-35},{"s":"g30","t":1.31,"v":-51.9},{"s":"g30","t":1.6,"v":-47},{"s":"g30","t":1.95,"v":-34},{"s":"g30","t":2.35,"v":-20},{"s":"g30","t":2.8,"v":-11.5},{"s":"g30","t":3.5,"v":-5.5},{"s":"g30","t":4.95,"v":-2},
{"s":"g100","t":0,"v":-1.5},{"s":"g100","t":0.82,"v":-0.3},{"s":"g100","t":0.95,"v":0.5},{"s":"g100","t":1.03,"v":-12},{"s":"g100","t":1.12,"v":-50},{"s":"g100","t":1.2,"v":-82},{"s":"g100","t":1.27,"v":-93},{"s":"g100","t":1.45,"v":-88},{"s":"g100","t":1.8,"v":-63},{"s":"g100","t":2.15,"v":-40},{"s":"g100","t":2.55,"v":-22},{"s":"g100","t":3.0,"v":-12.5},{"s":"g100","t":3.8,"v":-6},{"s":"g100","t":4.95,"v":-2.5},
{"s":"g300","t":0,"v":-1.5},{"s":"g300","t":0.82,"v":-0.3},{"s":"g300","t":0.95,"v":0.5},{"s":"g300","t":1.03,"v":-13},{"s":"g300","t":1.1,"v":-50},{"s":"g300","t":1.18,"v":-88},{"s":"g300","t":1.27,"v":-101.4},{"s":"g300","t":1.5,"v":-92},{"s":"g300","t":1.86,"v":-62},{"s":"g300","t":2.2,"v":-38},{"s":"g300","t":2.6,"v":-21},{"s":"g300","t":3.1,"v":-11.5},{"s":"g300","t":3.9,"v":-5.5},{"s":"g300","t":4.95,"v":-2.5},
{"s":"r1","t":0,"v":-2.5},{"s":"r1","t":0.5,"v":-1.8},{"s":"r1","t":0.82,"v":-0.5},{"s":"r1","t":0.92,"v":1},{"s":"r1","t":0.98,"v":0},{"s":"r1","t":1.1,"v":-1},{"s":"r1","t":1.5,"v":-2},{"s":"r1","t":3,"v":-1.5},{"s":"r1","t":4.95,"v":-1},
{"s":"r3","t":0,"v":-2.5},{"s":"r3","t":0.5,"v":-1.8},{"s":"r3","t":0.82,"v":-0.5},{"s":"r3","t":0.92,"v":1},{"s":"r3","t":0.98,"v":0},{"s":"r3","t":1.1,"v":-2},{"s":"r3","t":1.4,"v":-3.5},{"s":"r3","t":2,"v":-3},{"s":"r3","t":3,"v":-2},{"s":"r3","t":4.95,"v":-1.2},
{"s":"r10","t":0,"v":-2.5},{"s":"r10","t":0.5,"v":-1.8},{"s":"r10","t":0.82,"v":-0.5},{"s":"r10","t":0.92,"v":1},{"s":"r10","t":0.98,"v":0},{"s":"r10","t":1.05,"v":-3},{"s":"r10","t":1.15,"v":-8},{"s":"r10","t":1.34,"v":-11.6},{"s":"r10","t":1.6,"v":-10.5},{"s":"r10","t":2.19,"v":-6.7},{"s":"r10","t":3.17,"v":-3},{"s":"r10","t":4.95,"v":-1.5},
{"s":"r30","t":0,"v":-2.5},{"s":"r30","t":0.5,"v":-1.8},{"s":"r30","t":0.82,"v":-0.5},{"s":"r30","t":0.92,"v":1},{"s":"r30","t":0.98,"v":0},{"s":"r30","t":1.04,"v":-6},{"s":"r30","t":1.12,"v":-20},{"s":"r30","t":1.2,"v":-32},{"s":"r30","t":1.27,"v":-36.8},{"s":"r30","t":1.6,"v":-32.7},{"s":"r30","t":1.99,"v":-19.7},{"s":"r30","t":2.52,"v":-9.9},{"s":"r30","t":3.17,"v":-5},{"s":"r30","t":4.0,"v":-2.8},{"s":"r30","t":4.95,"v":-1.8},
{"s":"r100","t":0,"v":-2.5},{"s":"r100","t":0.5,"v":-1.8},{"s":"r100","t":0.82,"v":-0.5},{"s":"r100","t":0.92,"v":1},{"s":"r100","t":0.98,"v":0},{"s":"r100","t":1.03,"v":-10},{"s":"r100","t":1.1,"v":-35},{"s":"r100","t":1.17,"v":-66},{"s":"r100","t":1.24,"v":-81.6},{"s":"r100","t":1.35,"v":-80},{"s":"r100","t":1.54,"v":-73.4},{"s":"r100","t":1.86,"v":-47.4},{"s":"r100","t":2.25,"v":-26.2},{"s":"r100","t":2.65,"v":-14.8},{"s":"r100","t":3.17,"v":-7.5},{"s":"r100","t":4.0,"v":-3.5},{"s":"r100","t":4.95,"v":-2},
{"s":"r300","t":0,"v":-2.5},{"s":"r300","t":0.5,"v":-1.8},{"s":"r300","t":0.82,"v":-0.5},{"s":"r300","t":0.92,"v":1},{"s":"r300","t":0.98,"v":0},{"s":"r300","t":1.03,"v":-12},{"s":"r300","t":1.09,"v":-45},{"s":"r300","t":1.14,"v":-80},{"s":"r300","t":1.19,"v":-100.8},{"s":"r300","t":1.3,"v":-96},{"s":"r300","t":1.47,"v":-84.8},{"s":"r300","t":1.86,"v":-52.3},{"s":"r300","t":2.19,"v":-32.7},{"s":"r300","t":2.52,"v":-19.7},{"s":"r300","t":3.04,"v":-10.7},{"s":"r300","t":3.82,"v":-5},{"s":"r300","t":4.95,"v":-2.3}
],
"bCtrl":[
{"s":"g3","t":0.24,"v":-0.3},{"s":"g3","t":1.5,"v":-0.3},{"s":"g3","t":1.7,"v":0.5},{"s":"g3","t":1.9,"v":6.5},{"s":"g3","t":2.09,"v":10},{"s":"g3","t":2.22,"v":5.5},{"s":"g3","t":2.35,"v":-0.6},{"s":"g3","t":2.6,"v":-6},{"s":"g3","t":3.0,"v":-8.8},{"s":"g3","t":3.6,"v":-8},{"s":"g3","t":5.1,"v":-6},{"s":"g3","t":7.06,"v":-4.5},{"s":"g3","t":10,"v":-3},
{"s":"g10","t":0.24,"v":-0.3},{"s":"g10","t":1.5,"v":-0.3},{"s":"g10","t":1.7,"v":0.5},{"s":"g10","t":1.9,"v":6.5},{"s":"g10","t":2.09,"v":10},{"s":"g10","t":2.22,"v":5.5},{"s":"g10","t":2.35,"v":-0.6},{"s":"g10","t":2.6,"v":-20},{"s":"g10","t":2.95,"v":-37.3},{"s":"g10","t":3.5,"v":-33},{"s":"g10","t":4.3,"v":-23},{"s":"g10","t":5.3,"v":-15.5},{"s":"g10","t":6.6,"v":-10},{"s":"g10","t":8.4,"v":-6.5},{"s":"g10","t":10,"v":-4.8},
{"s":"g30","t":0.24,"v":-0.3},{"s":"g30","t":1.5,"v":-0.3},{"s":"g30","t":1.7,"v":0.5},{"s":"g30","t":1.9,"v":6.5},{"s":"g30","t":2.09,"v":10},{"s":"g30","t":2.22,"v":5.5},{"s":"g30","t":2.35,"v":-0.6},{"s":"g30","t":2.55,"v":-30},{"s":"g30","t":2.75,"v":-60},{"s":"g30","t":2.95,"v":-72.3},{"s":"g30","t":3.5,"v":-65},{"s":"g30","t":4.3,"v":-46},{"s":"g30","t":5.3,"v":-31},{"s":"g30","t":6.6,"v":-20},{"s":"g30","t":8.4,"v":-12.5},{"s":"g30","t":10,"v":-8},
{"s":"g100","t":0.24,"v":-0.3},{"s":"g100","t":1.5,"v":-0.3},{"s":"g100","t":1.7,"v":0.5},{"s":"g100","t":1.9,"v":6.5},{"s":"g100","t":2.09,"v":10},{"s":"g100","t":2.22,"v":5.5},{"s":"g100","t":2.35,"v":-0.6},{"s":"g100","t":2.55,"v":-35},{"s":"g100","t":2.75,"v":-78},{"s":"g100","t":2.95,"v":-92},{"s":"g100","t":3.5,"v":-85},{"s":"g100","t":4.3,"v":-65},{"s":"g100","t":5.4,"v":-43},{"s":"g100","t":6.8,"v":-27},{"s":"g100","t":8.4,"v":-17},{"s":"g100","t":10,"v":-10},
{"s":"g1000","t":0.24,"v":-0.3},{"s":"g1000","t":1.5,"v":-0.3},{"s":"g1000","t":1.7,"v":0.5},{"s":"g1000","t":1.9,"v":6.5},{"s":"g1000","t":2.09,"v":10},{"s":"g1000","t":2.22,"v":5.5},{"s":"g1000","t":2.35,"v":-0.6},{"s":"g1000","t":2.55,"v":-36},{"s":"g1000","t":2.75,"v":-84},{"s":"g1000","t":2.97,"v":-100.8},{"s":"g1000","t":3.5,"v":-93},{"s":"g1000","t":4.44,"v":-70.7},{"s":"g1000","t":5.75,"v":-39.7},{"s":"g1000","t":7.71,"v":-21.8},{"s":"g1000","t":10,"v":-10.4},
{"s":"k3","t":0.24,"v":-0.3},{"s":"k3","t":1.5,"v":-0.3},{"s":"k3","t":1.7,"v":0.5},{"s":"k3","t":1.9,"v":7},{"s":"k3","t":2.09,"v":10.8},{"s":"k3","t":2.22,"v":6},{"s":"k3","t":2.35,"v":-0.6},{"s":"k3","t":2.6,"v":-8},{"s":"k3","t":2.94,"v":-12.3},{"s":"k3","t":3.4,"v":-11},{"s":"k3","t":3.79,"v":-9.6},{"s":"k3","t":5.1,"v":-6.3},{"s":"k3","t":7.06,"v":-3.9},{"s":"k3","t":10,"v":-2.3},
{"s":"k10","t":0.24,"v":-0.3},{"s":"k10","t":1.5,"v":-0.3},{"s":"k10","t":1.7,"v":0.5},{"s":"k10","t":1.9,"v":7},{"s":"k10","t":2.09,"v":10.8},{"s":"k10","t":2.22,"v":6},{"s":"k10","t":2.35,"v":-0.6},{"s":"k10","t":2.55,"v":-20},{"s":"k10","t":2.75,"v":-38},{"s":"k10","t":2.88,"v":-44.6},{"s":"k10","t":3.4,"v":-38.1},{"s":"k10","t":4.18,"v":-24.3},{"s":"k10","t":5.1,"v":-15.3},{"s":"k10","t":6.4,"v":-9.6},{"s":"k10","t":8.37,"v":-5.8},{"s":"k10","t":10,"v":-3.9},
{"s":"k30","t":0.24,"v":-0.3},{"s":"k30","t":1.5,"v":-0.3},{"s":"k30","t":1.7,"v":0.5},{"s":"k30","t":1.9,"v":7},{"s":"k30","t":2.09,"v":10.8},{"s":"k30","t":2.22,"v":6},{"s":"k30","t":2.35,"v":-0.6},{"s":"k30","t":2.5,"v":-30},{"s":"k30","t":2.7,"v":-65},{"s":"k30","t":2.88,"v":-78.5},{"s":"k30","t":3.1,"v":-75},{"s":"k30","t":3.4,"v":-67.4},{"s":"k30","t":4.18,"v":-44.6},{"s":"k30","t":5.1,"v":-28.3},{"s":"k30","t":6.4,"v":-16.9},{"s":"k30","t":8.37,"v":-9.6},{"s":"k30","t":10,"v":-5.8},
{"s":"k100","t":0.24,"v":-0.3},{"s":"k100","t":1.5,"v":-0.3},{"s":"k100","t":1.7,"v":0.5},{"s":"k100","t":1.9,"v":7},{"s":"k100","t":2.09,"v":10.8},{"s":"k100","t":2.22,"v":6},{"s":"k100","t":2.35,"v":-0.6},{"s":"k100","t":2.5,"v":-32},{"s":"k100","t":2.68,"v":-78},{"s":"k100","t":2.81,"v":-93.4},{"s":"k100","t":3.05,"v":-90},{"s":"k100","t":3.4,"v":-83.7},{"s":"k100","t":4.18,"v":-60.9},{"s":"k100","t":5.1,"v":-38.1},{"s":"k100","t":6.4,"v":-21.8},{"s":"k100","t":8.37,"v":-12},{"s":"k100","t":10,"v":-7.5},
{"s":"k300","t":0.24,"v":-0.3},{"s":"k300","t":1.5,"v":-0.3},{"s":"k300","t":1.7,"v":0.5},{"s":"k300","t":1.9,"v":7},{"s":"k300","t":2.09,"v":10.8},{"s":"k300","t":2.22,"v":6},{"s":"k300","t":2.35,"v":-0.6},{"s":"k300","t":2.5,"v":-33},{"s":"k300","t":2.68,"v":-80},{"s":"k300","t":2.81,"v":-97},{"s":"k300","t":3.05,"v":-93},{"s":"k300","t":3.4,"v":-87},{"s":"k300","t":4.18,"v":-63.5},{"s":"k300","t":5.1,"v":-40},{"s":"k300","t":6.4,"v":-22.8},{"s":"k300","t":8.37,"v":-12.5},{"s":"k300","t":10,"v":-7.8},
{"s":"k1000","t":0.24,"v":-0.3},{"s":"k1000","t":1.5,"v":-0.3},{"s":"k1000","t":1.7,"v":0.5},{"s":"k1000","t":1.9,"v":7},{"s":"k1000","t":2.09,"v":10.8},{"s":"k1000","t":2.22,"v":6},{"s":"k1000","t":2.35,"v":-0.6},{"s":"k1000","t":2.5,"v":-34},{"s":"k1000","t":2.68,"v":-82},{"s":"k1000","t":2.81,"v":-100},{"s":"k1000","t":3.05,"v":-96},{"s":"k1000","t":3.4,"v":-90.2},{"s":"k1000","t":4.18,"v":-65.8},{"s":"k1000","t":5.1,"v":-41.4},{"s":"k1000","t":6.4,"v":-23.4},{"s":"k1000","t":8.37,"v":-12.8},{"s":"k1000","t":10,"v":-8}
],
"bCaps":[
{"s":"g3","t":0.24,"v":-1},{"s":"g3","t":1.31,"v":-1.5},{"s":"g3","t":1.57,"v":-6},{"s":"g3","t":1.79,"v":-16.5},{"s":"g3","t":1.96,"v":0},{"s":"g3","t":2.18,"v":19.4},{"s":"g3","t":2.42,"v":0},{"s":"g3","t":2.9,"v":-3},{"s":"g3","t":4,"v":-2},{"s":"g3","t":10,"v":-0.8},
{"s":"g10","t":0.24,"v":-1},{"s":"g10","t":1.31,"v":-1.5},{"s":"g10","t":1.57,"v":-6},{"s":"g10","t":1.79,"v":-16.5},{"s":"g10","t":1.96,"v":0},{"s":"g10","t":2.18,"v":19.4},{"s":"g10","t":2.42,"v":0},{"s":"g10","t":2.8,"v":-10},{"s":"g10","t":3.14,"v":-14.5},{"s":"g10","t":3.79,"v":-12},{"s":"g10","t":5.1,"v":-7},{"s":"g10","t":7.06,"v":-3.5},{"s":"g10","t":10,"v":-1.5},
{"s":"g30","t":0.24,"v":-1},{"s":"g30","t":1.31,"v":-1.5},{"s":"g30","t":1.57,"v":-6},{"s":"g30","t":1.79,"v":-16.5},{"s":"g30","t":1.96,"v":0},{"s":"g30","t":2.18,"v":19.4},{"s":"g30","t":2.42,"v":0},{"s":"g30","t":2.75,"v":-32},{"s":"g30","t":3.1,"v":-45.8},{"s":"g30","t":3.66,"v":-41},{"s":"g30","t":4.44,"v":-30.5},{"s":"g30","t":5.75,"v":-19},{"s":"g30","t":7.71,"v":-10.5},{"s":"g30","t":10,"v":-4},
{"s":"g100","t":0.24,"v":-1},{"s":"g100","t":1.31,"v":-1.5},{"s":"g100","t":1.57,"v":-6},{"s":"g100","t":1.79,"v":-16.5},{"s":"g100","t":1.96,"v":0},{"s":"g100","t":2.18,"v":19.4},{"s":"g100","t":2.42,"v":0},{"s":"g100","t":2.7,"v":-55},{"s":"g100","t":2.9,"v":-80},{"s":"g100","t":3.1,"v":-84.8},{"s":"g100","t":3.66,"v":-75},{"s":"g100","t":4.44,"v":-55},{"s":"g100","t":5.1,"v":-42},{"s":"g100","t":5.75,"v":-33},{"s":"g100","t":6.41,"v":-26},{"s":"g100","t":8.37,"v":-13.5},{"s":"g100","t":10,"v":-6.5},
{"s":"g1000","t":0.24,"v":-1},{"s":"g1000","t":1.31,"v":-1.5},{"s":"g1000","t":1.57,"v":-6},{"s":"g1000","t":1.79,"v":-16.5},{"s":"g1000","t":1.96,"v":0},{"s":"g1000","t":2.18,"v":19.4},{"s":"g1000","t":2.42,"v":0},{"s":"g1000","t":2.7,"v":-62},{"s":"g1000","t":2.9,"v":-96},{"s":"g1000","t":3.1,"v":-101.9},{"s":"g1000","t":3.66,"v":-92},{"s":"g1000","t":4.44,"v":-65.3},{"s":"g1000","t":5.1,"v":-50.6},{"s":"g1000","t":5.75,"v":-40.9},{"s":"g1000","t":6.41,"v":-33},{"s":"g1000","t":8.37,"v":-19.7},{"s":"g1000","t":10,"v":-8.6},
{"s":"r1","t":0.24,"v":-1},{"s":"r1","t":1.31,"v":-1.8},{"s":"r1","t":1.57,"v":-5.8},{"s":"r1","t":1.79,"v":-15.6},{"s":"r1","t":1.96,"v":1.5},{"s":"r1","t":2.22,"v":13.7},{"s":"r1","t":2.42,"v":-0.1},{"s":"r1","t":2.7,"v":-1.5},{"s":"r1","t":3.5,"v":-1.5},{"s":"r1","t":10,"v":-0.6},
{"s":"r3","t":0.24,"v":-1},{"s":"r3","t":1.31,"v":-1.8},{"s":"r3","t":1.57,"v":-5.8},{"s":"r3","t":1.79,"v":-15.6},{"s":"r3","t":1.96,"v":1.5},{"s":"r3","t":2.22,"v":13.7},{"s":"r3","t":2.42,"v":-0.1},{"s":"r3","t":2.88,"v":-3.4},{"s":"r3","t":4,"v":-2.2},{"s":"r3","t":10,"v":-0.8},
{"s":"r10","t":0.24,"v":-1},{"s":"r10","t":1.31,"v":-1.8},{"s":"r10","t":1.57,"v":-5.8},{"s":"r10","t":1.79,"v":-15.6},{"s":"r10","t":1.96,"v":1.5},{"s":"r10","t":2.22,"v":13.7},{"s":"r10","t":2.42,"v":-0.1},{"s":"r10","t":2.75,"v":-15},{"s":"r10","t":3.0,"v":-21},{"s":"r10","t":3.79,"v":-17.2},{"s":"r10","t":5.1,"v":-9.9},{"s":"r10","t":7.06,"v":-5},{"s":"r10","t":10,"v":-2.2},
{"s":"r30","t":0.24,"v":-1},{"s":"r30","t":1.31,"v":-1.8},{"s":"r30","t":1.57,"v":-5.8},{"s":"r30","t":1.79,"v":-15.6},{"s":"r30","t":1.96,"v":1.5},{"s":"r30","t":2.22,"v":13.7},{"s":"r30","t":2.42,"v":-0.1},{"s":"r30","t":2.7,"v":-38},{"s":"r30","t":3.0,"v":-55.2},{"s":"r30","t":3.3,"v":-53},{"s":"r30","t":3.66,"v":-47.4},{"s":"r30","t":4.44,"v":-34.3},{"s":"r30","t":5.75,"v":-21.3},{"s":"r30","t":7.71,"v":-11.6},{"s":"r30","t":10,"v":-3.4},
{"s":"r100","t":0.24,"v":-1},{"s":"r100","t":1.31,"v":-1.8},{"s":"r100","t":1.57,"v":-5.8},{"s":"r100","t":1.79,"v":-15.6},{"s":"r100","t":1.96,"v":1.5},{"s":"r100","t":2.22,"v":13.7},{"s":"r100","t":2.42,"v":-0.1},{"s":"r100","t":2.65,"v":-55},{"s":"r100","t":2.85,"v":-85},{"s":"r100","t":2.98,"v":-91},{"s":"r100","t":3.25,"v":-87},{"s":"r100","t":3.66,"v":-76.7},{"s":"r100","t":4.44,"v":-53.9},{"s":"r100","t":5.1,"v":-40.9},{"s":"r100","t":5.75,"v":-32.7},{"s":"r100","t":6.41,"v":-25.4},{"s":"r100","t":8.37,"v":-11.5},{"s":"r100","t":10,"v":-5},
{"s":"r300","t":0.24,"v":-1},{"s":"r300","t":1.31,"v":-1.8},{"s":"r300","t":1.57,"v":-5.8},{"s":"r300","t":1.79,"v":-15.6},{"s":"r300","t":1.96,"v":1.5},{"s":"r300","t":2.22,"v":13.7},{"s":"r300","t":2.42,"v":-0.1},{"s":"r300","t":2.65,"v":-57},{"s":"r300","t":2.85,"v":-90},{"s":"r300","t":2.99,"v":-96},{"s":"r300","t":3.25,"v":-92},{"s":"r300","t":3.66,"v":-82},{"s":"r300","t":4.44,"v":-57.5},{"s":"r300","t":5.1,"v":-42.5},{"s":"r300","t":5.75,"v":-34.3},{"s":"r300","t":6.41,"v":-26.5},{"s":"r300","t":8.37,"v":-13},{"s":"r300","t":10,"v":-5.6},
{"s":"r1000","t":0.24,"v":-1},{"s":"r1000","t":1.31,"v":-1.8},{"s":"r1000","t":1.57,"v":-5.8},{"s":"r1000","t":1.79,"v":-15.6},{"s":"r1000","t":1.96,"v":1.5},{"s":"r1000","t":2.22,"v":13.7},{"s":"r1000","t":2.42,"v":-0.1},{"s":"r1000","t":2.65,"v":-60},{"s":"r1000","t":2.85,"v":-94},{"s":"r1000","t":3.0,"v":-100.3},{"s":"r1000","t":3.25,"v":-96},{"s":"r1000","t":3.66,"v":-86.5},{"s":"r1000","t":4.44,"v":-60.4},{"s":"r1000","t":5.1,"v":-44.1},{"s":"r1000","t":5.75,"v":-36},{"s":"r1000","t":6.41,"v":-27.8},{"s":"r1000","t":8.37,"v":-14.8},{"s":"r1000","t":10,"v":-6.3}
],
"cfit":[
{"t":1,"k0":0.07,"k1":0.06,"r0":0.06,"r1":0.055},{"t":1.5,"k0":0.11,"k1":0.085,"r0":0.065,"r1":0.06},{"t":2,"k0":0.15,"k1":0.115,"r0":0.075,"r1":0.07},{"t":3,"k0":0.22,"k1":0.17,"r0":0.10,"r1":0.085},{"t":5,"k0":0.34,"k1":0.29,"r0":0.15,"r1":0.12},{"t":7,"k0":0.43,"k1":0.39,"r0":0.20,"r1":0.16},{"t":10,"k0":0.53,"k1":0.50,"r0":0.27,"r1":0.21},{"t":15,"k0":0.63,"k1":0.61,"r0":0.38,"r1":0.29},{"t":20,"k0":0.69,"k1":0.68,"r0":0.47,"r1":0.35},{"t":30,"k0":0.77,"k1":0.77,"r0":0.60,"r1":0.46},{"t":50,"k0":0.87,"k1":0.88,"r0":0.76,"r1":0.60},{"t":70,"k0":0.92,"k1":0.94,"r0":0.84,"r1":0.69},{"t":100,"k0":0.96,"k1":0.985,"r0":0.90,"r1":0.78},{"t":150,"k0":0.99,"k1":1.02,"r0":0.945,"r1":0.86},{"t":200,"k0":1.0,"k1":1.04,"r0":0.965,"r1":0.91},{"t":300,"k0":1.01,"k1":1.06,"r0":0.98,"r1":0.97}
],
"cpts":[
{"t":1,"y":0.08,"lo":0.07,"hi":0.09,"grp":"k0"},{"t":3,"y":0.21,"lo":0.17,"hi":0.25,"grp":"k0"},{"t":10,"y":0.535,"lo":0.455,"hi":0.615,"grp":"k0"},{"t":30,"y":0.74,"lo":0.67,"hi":0.81,"grp":"k0"},{"t":100,"y":0.985,"lo":0.945,"hi":1.025,"grp":"k0"},{"t":300,"y":1.01,"lo":0.98,"hi":1.04,"grp":"k0"},
{"t":1,"y":0.07,"lo":0.06,"hi":0.08,"grp":"k1"},{"t":3,"y":0.155,"lo":0.125,"hi":0.185,"grp":"k1"},{"t":10,"y":0.497,"lo":0.437,"hi":0.557,"grp":"k1"},{"t":30,"y":0.735,"lo":0.675,"hi":0.795,"grp":"k1"},{"t":100,"y":1.03,"lo":0.94,"hi":1.12,"grp":"k1"},{"t":300,"y":1.064,"lo":1.024,"hi":1.104,"grp":"k1"},
{"t":1,"y":0.06,"lo":0.05,"hi":0.07,"grp":"r0"},{"t":3,"y":0.10,"lo":0.08,"hi":0.12,"grp":"r0"},{"t":10,"y":0.255,"lo":0.225,"hi":0.285,"grp":"r0"},{"t":30,"y":0.585,"lo":0.505,"hi":0.665,"grp":"r0"},{"t":100,"y":0.905,"lo":0.865,"hi":0.945,"grp":"r0"},{"t":300,"y":0.99,"lo":0.945,"hi":1.035,"grp":"r0"},
{"t":1,"y":0.055,"lo":0.045,"hi":0.065,"grp":"r1"},{"t":3,"y":0.087,"lo":0.067,"hi":0.107,"grp":"r1"},{"t":10,"y":0.217,"lo":0.167,"hi":0.267,"grp":"r1"},{"t":30,"y":0.445,"lo":0.38,"hi":0.51,"grp":"r1"},{"t":100,"y":0.79,"lo":0.73,"hi":0.85,"grp":"r1"},{"t":300,"y":0.967,"lo":0.897,"hi":1.037,"grp":"r1"}
],
"dfit":[
{"t":3,"k0":0.08,"k1":0.10,"r0":0.03,"r1":0.05},{"t":6,"k0":0.19,"k1":0.22,"r0":0.085,"r1":0.14},{"t":10,"k0":0.31,"k1":0.36,"r0":0.165,"r1":0.23},{"t":30,"k0":0.65,"k1":0.70,"r0":0.44,"r1":0.55},{"t":60,"k0":0.80,"k1":0.825,"r0":0.665,"r1":0.755},{"t":100,"k0":0.87,"k1":0.89,"r0":0.80,"r1":0.855},{"t":300,"k0":0.95,"k1":0.955,"r0":0.95,"r1":0.963},{"t":600,"k0":0.97,"k1":0.97,"r0":0.97,"r1":0.975},{"t":1000,"k0":0.98,"k1":0.985,"r0":0.985,"r1":0.99},{"t":3000,"k0":1.0,"k1":1.005,"r0":1.0,"r1":1.01}
],
"dpts":[
{"t":3,"y":0.08,"lo":0.065,"hi":0.095,"grp":"k0"},{"t":6,"y":0.19,"lo":0.17,"hi":0.21,"grp":"k0"},{"t":10,"y":0.31,"lo":0.285,"hi":0.335,"grp":"k0"},{"t":30,"y":0.65,"lo":0.62,"hi":0.68,"grp":"k0"},{"t":60,"y":0.80,"lo":0.78,"hi":0.82,"grp":"k0"},{"t":100,"y":0.87,"lo":0.85,"hi":0.89,"grp":"k0"},{"t":300,"y":0.95,"lo":0.94,"hi":0.96,"grp":"k0"},{"t":600,"y":0.97,"lo":0.96,"hi":0.98,"grp":"k0"},{"t":1000,"y":0.98,"lo":0.97,"hi":0.99,"grp":"k0"},{"t":3000,"y":1.0,"lo":0.99,"hi":1.01,"grp":"k0"},
{"t":3,"y":0.10,"lo":0.085,"hi":0.115,"grp":"k1"},{"t":6,"y":0.22,"lo":0.20,"hi":0.24,"grp":"k1"},{"t":10,"y":0.36,"lo":0.335,"hi":0.385,"grp":"k1"},{"t":30,"y":0.70,"lo":0.675,"hi":0.725,"grp":"k1"},{"t":60,"y":0.825,"lo":0.805,"hi":0.845,"grp":"k1"},{"t":100,"y":0.89,"lo":0.875,"hi":0.905,"grp":"k1"},{"t":300,"y":0.955,"lo":0.945,"hi":0.965,"grp":"k1"},{"t":600,"y":0.97,"lo":0.96,"hi":0.98,"grp":"k1"},{"t":1000,"y":0.985,"lo":0.975,"hi":0.995,"grp":"k1"},{"t":3000,"y":1.005,"lo":0.995,"hi":1.015,"grp":"k1"},
{"t":3,"y":0.03,"lo":0.015,"hi":0.045,"grp":"r0"},{"t":6,"y":0.085,"lo":0.065,"hi":0.105,"grp":"r0"},{"t":10,"y":0.165,"lo":0.14,"hi":0.19,"grp":"r0"},{"t":30,"y":0.44,"lo":0.39,"hi":0.49,"grp":"r0"},{"t":60,"y":0.665,"lo":0.63,"hi":0.70,"grp":"r0"},{"t":100,"y":0.80,"lo":0.775,"hi":0.825,"grp":"r0"},{"t":300,"y":0.95,"lo":0.935,"hi":0.965,"grp":"r0"},{"t":600,"y":0.97,"lo":0.96,"hi":0.98,"grp":"r0"},{"t":1000,"y":0.985,"lo":0.975,"hi":0.995,"grp":"r0"},{"t":3000,"y":1.0,"lo":0.99,"hi":1.01,"grp":"r0"},
{"t":3,"y":0.05,"lo":0.035,"hi":0.065,"grp":"r1"},{"t":6,"y":0.14,"lo":0.12,"hi":0.16,"grp":"r1"},{"t":10,"y":0.23,"lo":0.205,"hi":0.255,"grp":"r1"},{"t":30,"y":0.55,"lo":0.50,"hi":0.60,"grp":"r1"},{"t":60,"y":0.755,"lo":0.725,"hi":0.785,"grp":"r1"},{"t":100,"y":0.855,"lo":0.835,"hi":0.875,"grp":"r1"},{"t":300,"y":0.963,"lo":0.953,"hi":0.973,"grp":"r1"},{"t":600,"y":0.975,"lo":0.965,"hi":0.985,"grp":"r1"},{"t":1000,"y":0.99,"lo":0.98,"hi":1.0,"grp":"r1"},{"t":3000,"y":1.01,"lo":1.0,"hi":1.02,"grp":"r1"}
],
"epts":[
{"x":0,"y":13.4,"lo":10.8,"hi":15.6,"grp":"k0"},{"x":-30,"y":22.2,"lo":17.2,"hi":26.9,"grp":"k1"},{"x":0,"y":29.5,"lo":23.0,"hi":35.9,"grp":"r0"},{"x":-30,"y":48.7,"lo":39.2,"hi":58.1,"grp":"r1"}
],
"fpts":[
{"x":0,"y":18.7,"lo":17.4,"hi":20.0,"grp":"k0"},{"x":10,"y":16.8,"lo":15.6,"hi":18.0,"grp":"k1"},{"x":0,"y":37.9,"lo":33.5,"hi":42.5,"grp":"r0"},{"x":10,"y":28.5,"lo":24.3,"hi":32.5,"grp":"r1"}
]
}
}
